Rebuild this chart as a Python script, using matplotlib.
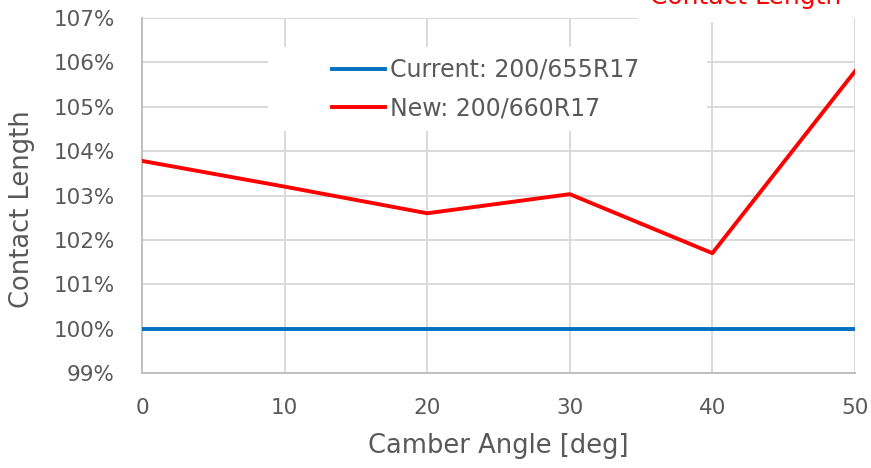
import matplotlib.pyplot as plt
from matplotlib.patches import Rectangle
from matplotlib.ticker import FuncFormatter

camber = [0, 10, 20, 30, 40, 50]
current = [100, 100, 100, 100, 100, 100]
new = [103.78, 103.2, 102.6, 103.03, 101.7, 105.8]

gray = '#595959'
plt.rcParams['font.family'] = 'DejaVu Sans'

fig = plt.figure(figsize=(8.71, 4.68), dpi=100)
ax = fig.add_axes([0.163, 0.203, 0.8186, 0.7585])

ax.plot(camber, current, color='#0070C0', lw=2.8, label='Current: 200/655R17', zorder=3)
ax.plot(camber, new, color='#FF0000', lw=2.8, label='New: 200/660R17', zorder=3)

ax.set_xlim(0, 50)
ax.set_ylim(99, 107)
ax.set_xticks(range(0, 51, 10))
ax.set_yticks(range(99, 108))
ax.yaxis.set_major_formatter(FuncFormatter(lambda v, p: f'{v:.0f}%'))
ax.grid(True, color='#d9d9d9', lw=1.4)
ax.set_axisbelow(True)
for s in ['top', 'right']:
    ax.spines[s].set_visible(False)
for s in ['left', 'bottom']:
    ax.spines[s].set_color('#bfbfbf')
    ax.spines[s].set_linewidth(1.4)
ax.tick_params(length=0, colors=gray, labelsize=15.5)
ax.tick_params(axis='y', pad=19.5)
ax.tick_params(axis='x', pad=18)

ax.set_xlabel('Camber Angle [deg]', color=gray, fontsize=18.5, labelpad=11)
ax.set_ylabel('Contact Length', color=gray, fontsize=18.5)
ax.yaxis.set_label_coords(-0.15, 0.462)

# white legend area (covers the gridlines like the original)
ax.add_patch(Rectangle((0.177, 0.682), 0.615, 0.236, transform=ax.transAxes,
                       facecolor='white', edgecolor='none', zorder=2))
leg = ax.legend(loc='upper left', bbox_to_anchor=(0.2665, 0.8876), frameon=False,
                fontsize=17, handlelength=2.25, handletextpad=0.2, borderpad=0,
                borderaxespad=0, labelspacing=0.6)
leg.set_zorder(4)
for t in leg.get_texts():
    t.set_color(gray)

fig.text(0.966, 1 - 4 / 468, 'Contact Length', ha='right', va='baseline',
         color='#FF0000', fontsize=18,
         bbox=dict(boxstyle='square,pad=0.5', facecolor='white', edgecolor='none'))

fig.savefig('out.png', dpi=100)
